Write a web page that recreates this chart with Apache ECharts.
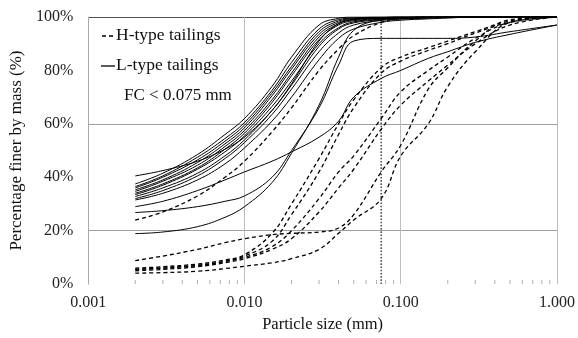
<!DOCTYPE html>
<html><head><meta charset="utf-8">
<script src="https://cdn.jsdelivr.net/npm/echarts@6/dist/echarts.min.js"></script>
<style>html,body{margin:0;padding:0;background:#fff}#c{width:578px;height:338px}</style>
</head><body><div id="c"></div>
<script>
// Particle sizes (mm) at which each grading curve is read
const sizes = [0.002, 0.003, 0.005, 0.0075, 0.01, 0.015, 0.02, 0.03, 0.04, 0.05, 0.075, 0.1, 0.15, 0.2, 0.3, 0.5, 1];

// H-type tailings (dashed), % finer by mass
const h1 = [24, 27, 33, 40, 46, 57, 66, 80, 88, 93, 98, 99.5, 100, 100, 100, 100, 100];
const h2 = [6, 6.5, 7.5, 9, 11, 19, 30, 47, 60, 69, 81, 85, 88.5, 91, 94.5, 98.5, 100];
const h3 = [5.5, 6, 7, 8.5, 10.5, 16, 26, 42, 56, 66, 79, 83.5, 87.5, 90, 94, 98, 100];
const h4 = [5.5, 6, 7, 8.5, 10, 14, 20, 32, 42, 48, 62, 72, 80, 85, 92, 98, 100];
const h5 = [5, 5.5, 6.5, 8, 9.5, 13, 17, 27, 36, 43, 58, 67, 76, 82, 90, 97, 100];
const h6 = [8.8, 10.5, 13, 15.5, 17, 18.5, 19, 19.5, 21, 26, 42, 52, 73, 81, 91, 99, 100];
const h7 = [4.1, 4.3, 4.8, 5.8, 6.7, 8, 9.5, 13, 19, 24, 32, 48, 60, 74, 87, 98, 100];

// L-type tailings (solid), % finer by mass
const l1 = [31.5, 34, 39, 45, 51, 61, 70, 84, 92, 95.5, 98, 98.8, 99.3, 99.6, 100, 100, 100];
const l2 = [32, 35, 40.5, 47, 53, 63.5, 73, 87, 94, 97, 98.7, 99.2, 99.6, 100, 100, 100, 100];
const l3 = [32.8, 36, 41.5, 48, 54, 65, 74.5, 89, 95.5, 97.8, 99, 99.4, 99.7, 100, 100, 100, 100];
const l4 = [33.5, 37, 43, 49.5, 55.5, 66.5, 76, 90, 96, 98.2, 99.2, 99.5, 99.8, 100, 100, 100, 100];
const l5 = [34, 37.5, 43.5, 50.5, 56.5, 68, 78, 91.5, 97, 98.6, 99.4, 99.7, 100, 100, 100, 100, 100];
const l6 = [34.7, 38.5, 44.5, 51.5, 57.5, 69, 79, 92.5, 97.5, 99, 99.6, 99.8, 100, 100, 100, 100, 100];
const l7 = [35.3, 39, 45.5, 52.5, 58.5, 70.5, 80.5, 93.5, 98, 99.2, 99.7, 100, 100, 100, 100, 100, 100];
const l8 = [36, 40, 46.5, 53.5, 59.5, 71.5, 81.5, 94.5, 98.5, 99.4, 99.8, 100, 100, 100, 100, 100, 100];
const l9 = [36.5, 40.5, 47.5, 54.5, 60.5, 72.5, 83, 95.5, 99, 99.6, 100, 100, 100, 100, 100, 100, 100];
const l10 = [37.5, 41.5, 48.5, 56, 62, 74, 85, 97, 99.5, 100, 100, 100, 100, 100, 100, 100, 100];
const l11 = [40.5, 42.5, 46, 50.5, 55, 65, 75, 91, 97.5, 99, 99.7, 100, 100, 100, 100, 100, 100];
const l12 = [29, 31, 35, 39, 42, 46, 49.5, 55, 61, 70, 77, 80, 84.5, 87, 90.5, 93.5, 97];
const l13 = [26.8, 27.5, 29, 31, 33, 40, 50, 66, 82, 91, 92, 92, 92, 92, 92.5, 94.5, 97];
const l14 = [18.9, 19.5, 21.5, 25, 29, 38, 49, 67, 85, 95, 99, 99.6, 100, 100, 100, 100, 100];

const hCurves = [h1, h2, h3, h4, h5, h6, h7];
const lCurves = [l1, l2, l3, l4, l5, l6, l7, l8, l9, l10, l11, l12, l13, l14];

// Fines-content limit marker
const fcLimit = 0.075;
const fcSpan = [0, 100];
const minorTicks = [0.002,0.003,0.004,0.005,0.006,0.007,0.008,0.009,
                    0.02,0.03,0.04,0.05,0.06,0.07,0.08,0.09,
                    0.2,0.3,0.4,0.5,0.6,0.7,0.8,0.9];

const FONT = "'Liberation Serif','Times New Roman',serif";

function curveSeries(vals, dashed) {
  return {
    type: 'line', silent: true, symbol: 'none', smooth: 0.4,
    data: sizes.map((x, i) => [x, vals[i]]),
    lineStyle: { color: '#000', width: dashed ? 1.3 : 1, type: dashed ? [4, 3] : 'solid' },
    z: 3
  };
}

const series = [];
series.push({
  type: 'line', silent: true, symbol: 'none', clip: false,
  data: fcSpan.map(v => [fcLimit, v]),
  lineStyle: { type: 'dotted', color: '#555', width: 1.6 }, z: 2
});
hCurves.forEach(c => series.push(curveSeries(c, true)));
lCurves.forEach(c => series.push(curveSeries(c, false)));
series.push({
  type: 'scatter', silent: true, symbol: 'rect', symbolSize: [1, 4], symbolOffset: [0, -2],
  itemStyle: { color: '#999' }, data: minorTicks.map(v => [v, 0]), z: 2
});

const chart = echarts.init(document.getElementById('c'));
chart.setOption({
  animation: false,
  backgroundColor: '#fff',
  grid: { left: 87, right: 21, top: 17, bottom: 46 },
  xAxis: {
    type: 'log', logBase: 10, min: 0.001, max: 1,
    name: 'Particle size (mm)', nameLocation: 'middle', nameGap: 28,
    nameTextStyle: { fontFamily: FONT, fontSize: 16.5, color: '#111' },
    axisLine: { show: false }, axisTick: { show: false },
    axisLabel: { fontFamily: FONT, fontSize: 16, color: '#222', margin: 11, formatter: v => Number(v).toFixed(3) },
    splitLine: { show: true, lineStyle: { color: '#bdbdbd', width: 1 } }
  },
  yAxis: {
    type: 'value', min: 0, max: 100, interval: 20,
    name: 'Percentage finer by mass (%)', nameLocation: 'middle', nameGap: 60, nameRotate: 90,
    nameTextStyle: { fontFamily: FONT, fontSize: 17, color: '#111' },
    axisLine: { show: true, lineStyle: { color: '#aaa' } }, axisTick: { show: false },
    axisLabel: { fontFamily: FONT, fontSize: 16, color: '#222', margin: 15, formatter: '{value}%' },
    splitLine: { show: true, lineStyle: { color: ['rgba(0,0,0,0)', '#a0a0a0', 'rgba(0,0,0,0)', '#a0a0a0', 'rgba(0,0,0,0)', '#505050'], width: 1 } }
  },
  series: series,
  graphic: [
    { type: 'line', shape: { x1: 102, y1: 36, x2: 115, y2: 36 }, style: { stroke: '#000', lineWidth: 1.3, lineDash: [4, 3] } },
    { type: 'text', left: 116, top: 26, style: { text: 'H-type tailings', font: "17.5px 'Liberation Serif', serif", fill: '#111' } },
    { type: 'line', shape: { x1: 101, y1: 66, x2: 115, y2: 66 }, style: { stroke: '#000', lineWidth: 1.3 } },
    { type: 'text', left: 116, top: 56, style: { text: 'L-type tailings', font: "17.5px 'Liberation Serif', serif", fill: '#111' } },
    { type: 'text', left: 124, top: 87, style: { text: 'FC < 0.075 mm', font: "17px 'Liberation Serif', serif", fill: '#111' } }
  ]
});
</script></body></html>
